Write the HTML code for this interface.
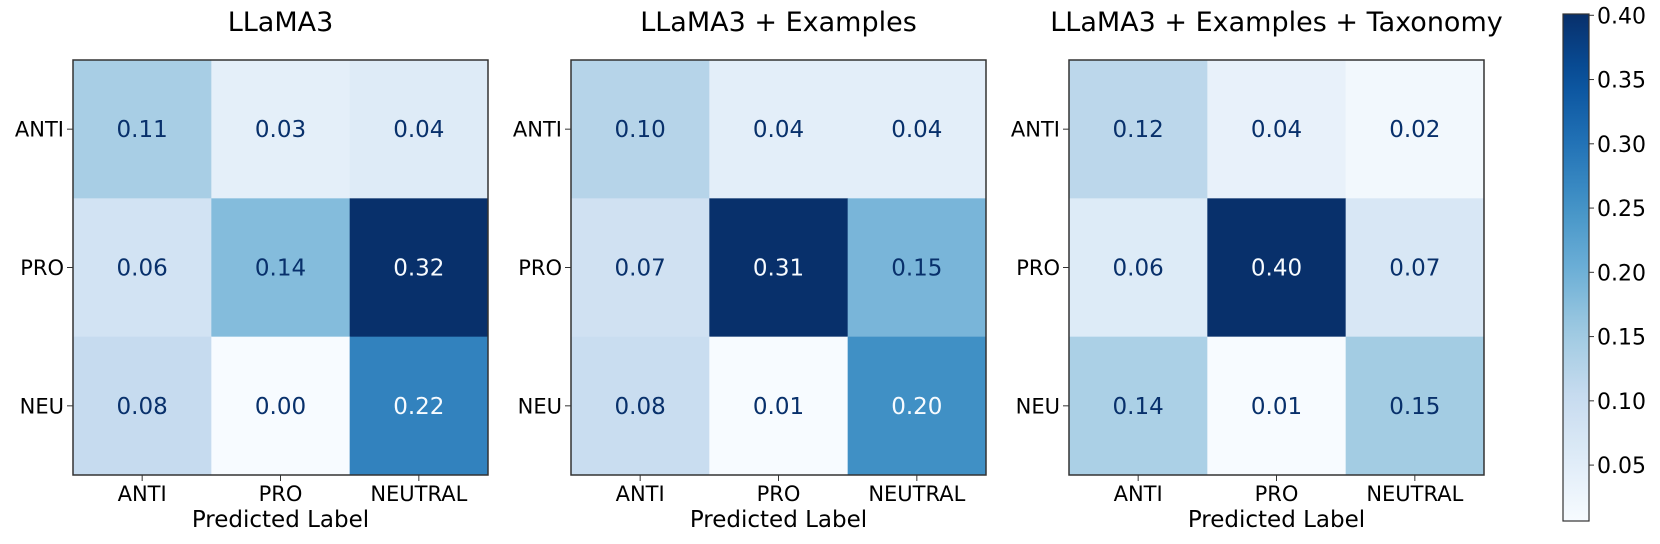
<!DOCTYPE html>
<html><head><meta charset="utf-8"><style>
html,body{margin:0;padding:0;background:#fff;}
svg{display:block;font-family:"DejaVu Sans","Liberation Sans",sans-serif;}
</style></head><body>
<svg id="chart" width="1660" height="544"></svg>
<script>
const titles = ["LLaMA3","LLaMA3 + Examples","LLaMA3 + Examples + Taxonomy"];
const rowLabels = ["ANTI","PRO","NEU"];
const colLabels = ["ANTI","PRO","NEUTRAL"];
const matrix1 = [[0.11,0.03,0.04],[0.06,0.14,0.32],[0.08,0.00,0.22]];
const matrix2 = [[0.10,0.04,0.04],[0.07,0.31,0.15],[0.08,0.01,0.20]];
const matrix3 = [[0.12,0.04,0.02],[0.06,0.40,0.07],[0.14,0.01,0.15]];
const cbTicks = [0.05,0.10,0.15,0.20,0.25,0.30,0.35,0.40];
const cbMin = 0.0065, cbMax = 0.401;

const NS="http://www.w3.org/2000/svg";
const svgRoot=document.getElementById('chart');
const blues=["#f7fbff","#deebf7","#c6dbef","#9ecae1","#6baed6","#4292c6","#2171b5","#08519c","#08306b"];
function hex(h){return [1,3,5].map(i=>parseInt(h.substr(i,2),16));}
function cmap(t){t=Math.max(0,Math.min(1,t));const p=t*(blues.length-1);const i=Math.min(Math.floor(p),blues.length-2);const f=p-i;const a=hex(blues[i]),b=hex(blues[i+1]);return 'rgb('+a.map((v,k)=>Math.round(v+(b[k]-v)*f)).join(',')+')';}
function el(tag,attrs,parent){const e=document.createElementNS(NS,tag);for(const k in attrs)e.setAttribute(k,attrs[k]);(parent||svgRoot).appendChild(e);return e;}
function txt(s,attrs,parent){const e=el('text',attrs,parent);e.textContent=s;return e;}

const mats=[matrix1,matrix2,matrix3];
const lefts=[73,571,1069], panelTop=60, size=415, cell=size/3;
mats.forEach((m,pi)=>{
  const g=el('g',{});
  
  
  const flat=m.flat(); const mn=Math.min(...flat), mx=Math.max(...flat);
  const thr=(mn+mx)/2;
  const x0=lefts[pi];
  m.forEach((row,r)=>row.forEach((v,c)=>{
    const rc=el('rect',{x:x0+c*cell,y:panelTop+r*cell,width:cell+0.5,height:cell+0.5,fill:cmap((v-mn)/(mx-mn))},g);
    
    
    const t=txt(v.toFixed(2),{x:x0+c*cell+cell/2,y:panelTop+r*cell+cell/2+8,'text-anchor':'middle','font-size':23,fill:v>thr?'#f7fbff':'#08306b'},g);
    
    
  }));
  const fr=el('rect',{x:x0,y:panelTop,width:size,height:size,fill:'none',stroke:'#333','stroke-width':1.5},g);
  
  
  const tt=txt(titles[pi],{x:x0+size/2,y:31,'text-anchor':'middle','font-size':27,fill:'#000'},g);
  
  
  rowLabels.forEach((l,r)=>{
    const y=panelTop+r*cell+cell/2;
    el('line',{x1:x0-6,x2:x0,y1:y,y2:y,stroke:'#333','stroke-width':1},g);
    const t=txt(l,{x:x0-9,y:y+7.5,'text-anchor':'end','font-size':21,fill:'#000'},g);
    
    
  });
  colLabels.forEach((l,c)=>{
    const x=x0+c*cell+cell/2;
    el('line',{x1:x,x2:x,y1:panelTop+size,y2:panelTop+size+6,stroke:'#333','stroke-width':1},g);
    const t=txt(l,{x:x,y:panelTop+size+26,'text-anchor':'middle','font-size':21,fill:'#000'},g);
    
    
  });
  const xl=txt('Predicted Label',{x:x0+size/2,y:527,'text-anchor':'middle','font-size':23,fill:'#000'},g);
  
  
});

const cbX=1563, cbW=26, cbTop=14, cbBot=521;
const defs=el('defs',{});
const grad=el('linearGradient',{id:'cbg',x1:0,y1:1,x2:0,y2:0},defs);
for(let i=0;i<=20;i++){el('stop',{offset:i/20,'stop-color':cmap(i/20)},grad);}
const cb=el('rect',{x:cbX,y:cbTop,width:cbW,height:cbBot-cbTop,fill:'url(#cbg)',stroke:'#333','stroke-width':1.2});


const cy=v=>cbBot-(v-cbMin)/(cbMax-cbMin)*(cbBot-cbTop);
cbTicks.forEach(v=>{
  const y=cy(v);
  el('line',{x1:cbX+cbW,x2:cbX+cbW+5,y1:y,y2:y,stroke:'#333','stroke-width':1});
  const t=txt(v.toFixed(2),{x:cbX+cbW+8,y:y+8,'font-size':22,fill:'#000'});
  
  
});
</script>
</body></html>
